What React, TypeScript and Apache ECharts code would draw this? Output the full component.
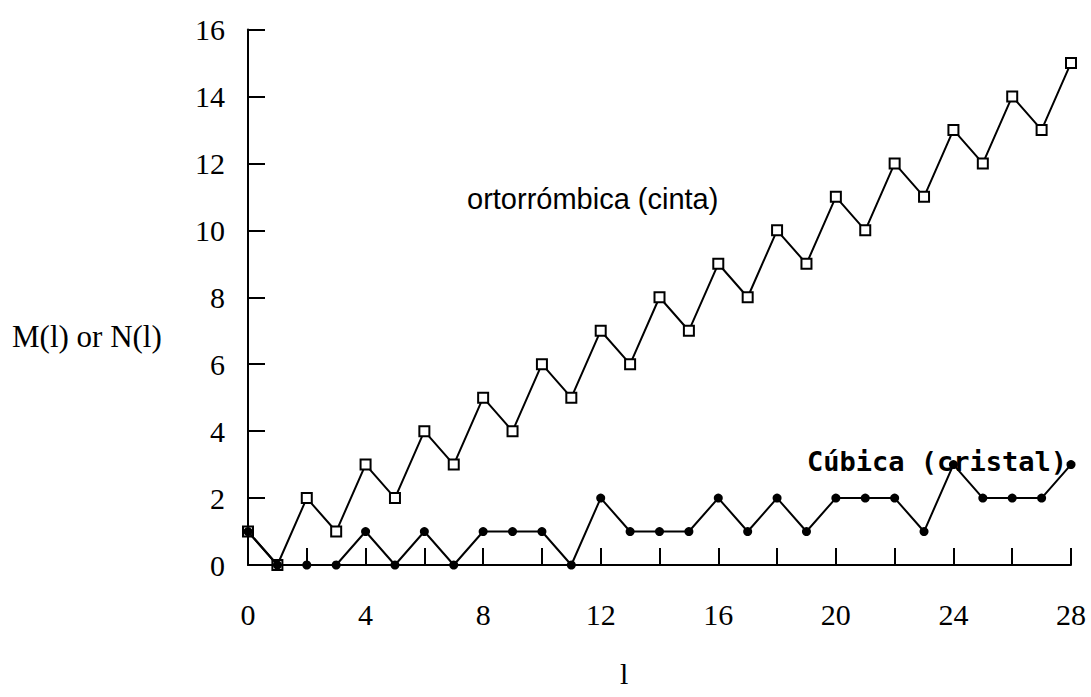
import React, { useEffect, useRef } from "react";
import * as echarts from "echarts";

const lValues = [0, 1, 2, 3, 4, 5, 6, 7, 8, 9, 10, 11, 12, 13, 14, 15, 16, 17, 18, 19, 20, 21, 22, 23, 24, 25, 26, 27, 28];
const ortorrombica = [1, 0, 2, 1, 3, 2, 4, 3, 5, 4, 6, 5, 7, 6, 8, 7, 9, 8, 10, 9, 11, 10, 12, 11, 13, 12, 14, 13, 15];
const cubica = [1, 0, 0, 0, 1, 0, 1, 0, 1, 1, 1, 0, 2, 1, 1, 1, 2, 1, 2, 1, 2, 2, 2, 1, 3, 2, 2, 2, 3];
const xLabelValues = [0, 4, 8, 12, 16, 20, 24, 28];

const serif = "'Liberation Serif', 'DejaVu Serif', serif";

export default function App() {
  const ref = useRef<HTMLDivElement>(null);
  useEffect(() => {
    if (!ref.current) return;
    const chart = echarts.init(ref.current, null, { renderer: "svg" });
    chart.setOption({
      animation: false,
      backgroundColor: "#ffffff",
      grid: { left: 248, right: 20, top: 29.5, bottom: 132 },
      xAxis: {
        type: "value",
        min: 0,
        max: 28,
        interval: 2,
        axisLine: { show: true, lineStyle: { color: "#000", width: 2 } },
        axisTick: { show: true, inside: true, length: 17, lineStyle: { color: "#000", width: 2 } },
        splitLine: { show: false },
        axisLabel: {
          margin: 34,
          fontFamily: serif,
          fontSize: 30,
          color: "#000",
          formatter: (v: number) => (xLabelValues.indexOf(v) >= 0 ? String(v) : ""),
        },
      },
      yAxis: {
        type: "value",
        min: 0,
        max: 16,
        interval: 2,
        axisLine: { show: true, lineStyle: { color: "#000", width: 2 } },
        axisTick: { show: true, inside: true, length: 17, lineStyle: { color: "#000", width: 2 } },
        splitLine: { show: false },
        axisLabel: { margin: 23, fontFamily: serif, fontSize: 30, color: "#000" },
      },
      graphic: [
        {
          type: "text",
          left: 12,
          top: 321,
          style: { text: "M(l) or N(l)", fontFamily: serif, fontSize: 31, fill: "#000" },
        },
        {
          type: "text",
          left: 620,
          top: 658,
          style: { text: "l", fontFamily: serif, fontSize: 30, fill: "#000" },
        },
        {
          type: "text",
          left: 467,
          top: 184,
          style: {
            text: "ortorrómbica (cinta)",
            fontFamily: "'Liberation Sans', sans-serif",
            fontSize: 29,
            fill: "#000",
          },
        },
        {
          type: "text",
          left: 807,
          top: 448,
          style: {
            text: "Cúbica (cristal)",
            fontFamily: "'DejaVu Sans Mono', 'Liberation Mono', monospace",
            fontWeight: "bold",
            fontSize: 27,
            fill: "#000",
          },
        },
      ],
      series: [
        {
          type: "line",
          name: "ortorrómbica (cinta)",
          data: lValues.map((l, i) => [l, ortorrombica[i]]),
          symbol: "rect",
          symbolSize: 10,
          itemStyle: { color: "#fff", borderColor: "#000", borderWidth: 2 },
          lineStyle: { color: "#000", width: 2 },
          z: 3,
        },
        {
          type: "line",
          name: "Cúbica (cristal)",
          data: lValues.map((l, i) => [l, cubica[i]]),
          symbol: "circle",
          symbolSize: 9,
          itemStyle: { color: "#000", borderColor: "#000", borderWidth: 0 },
          lineStyle: { color: "#000", width: 2 },
          z: 4,
        },
      ],
    });
    return () => chart.dispose();
  }, []);
  return (
    <div
      ref={ref}
      style={{ position: "absolute", left: 0, top: 0, width: 1091, height: 697, background: "#fff" }}
    />
  );
}
